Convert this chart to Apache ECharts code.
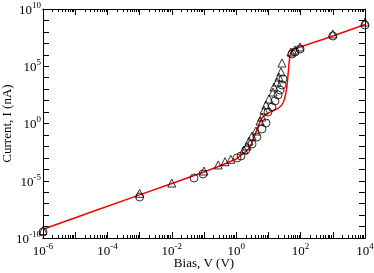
<!DOCTYPE html>
<html>
<head>
<meta charset="utf-8">
<script src="https://cdn.jsdelivr.net/npm/echarts@6/dist/echarts.min.js"></script>
<style>html,body{margin:0;padding:0;background:#fff}#c{width:374px;height:273px}</style>
</head>
<body>
<div id="c"></div>
<script>
// Fit line (Bias V, Current nA)
const lineV = [1e-6, 1e-3, 0.1, 1, 1.3, 1.9, 2.7, 3.8, 6.3, 11.2, 18.6, 26, 32, 38, 42, 47, 58, 95, 1000, 1e4];
const lineI = [5.8e-10, 5.8e-7, 5.8e-5, 8e-4, 1.45e-3, 3.2e-3, 8.9e-3, 0.1, 3.0, 10, 18.6, 42, 158, 2290, 4.7e4, 9.5e5, 2.6e6, 4.8e6, 4.4e7, 4.5e8];
// Triangle markers
const triV = [1e-6, 1e-3, 1e-2, 0.1, 0.275, 0.45, 0.68, 1.75, 2.16, 2.5, 3.1, 4.1, 5.5, 6.3, 7.3, 8.4, 10.4, 13.9, 14.9, 18.5, 21.3, 24.6, 26.4, 50, 67, 96, 1000, 1e4];
const triI = [4.5e-10, 7.9e-7, 6.3e-6, 7.1e-5, 2.4e-4, 4.6e-4, 7.4e-4, 4.9e-3, 1.07e-2, 2.95e-2, 8.1e-2, 0.22, 1.65, 3.7, 15, 42, 138, 560, 1550, 4200, 1.15e4, 3.2e4, 1.9e5, 1.74e6, 2.6e6, 4.8e6, 6.6e7, 7.2e8];
// Circle markers
const circV = [1e-6, 1e-3, 0.049, 0.093, 1.06, 1.41, 2.0, 3.1, 4.4, 6.3, 8.4, 9.7, 12.9, 16, 19.9, 22.9, 26.4, 28.4, 54, 67, 96, 1000, 1e4];
const circI = [3.3e-10, 3.8e-7, 1.74e-5, 3.9e-5, 9.8e-4, 1.45e-3, 4.9e-3, 1.6e-2, 6.6e-2, 0.33, 1.1, 10, 27.5, 93, 310, 850, 2300, 7800, 1.17e6, 1.74e6, 3.2e6, 4.4e7, 4e8];
// Ticks
const xMajor = [1e-6, 1e-5, 1e-4, 1e-3, 1e-2, 1e-1, 1, 10, 100, 1000, 1e4];
const xLabels = [1e-6, 1e-4, 1e-2, 1, 100, 1e4];
const yMajor = [1e-10,1e-9,1e-8,1e-7,1e-6,1e-5,1e-4,1e-3,1e-2,1e-1,1,10,100,1e3,1e4,1e5,1e6,1e7,1e8,1e9,1e10];
const yLabels = [1e-10, 1e-5, 1, 1e5, 1e10];
const xMinor = [];
xMajor.slice(0, -1).forEach(d => { for (let k = 2; k <= 9; k++) xMinor.push(d * k); });

const FONT = 'Liberation Serif';
const rich = {
  b: {fontSize: 13, fontFamily: FONT, color: '#000', lineHeight: 16, verticalAlign: 'bottom'},
  s: {fontSize: 9, fontFamily: FONT, color: '#000', lineHeight: 10, padding: [0, 0, 7, 0], verticalAlign: 'bottom'}
};
const fmt = v => '{b|10}{s|' + Math.round(Math.log10(v)) + '}';

function xAx(pos, ticks, len, labels) {
  return {
    type: 'log', min: 1e-6, max: 1e4, position: pos,
    axisLine: {show: true, onZero: false, lineStyle: {color: '#000', width: 1}},
    axisTick: {show: true, inside: true, length: len, customValues: ticks, lineStyle: {color: '#000', width: 1}},
    minorTick: {show: false}, splitLine: {show: false},
    axisLabel: labels ? {show: true, customValues: labels, formatter: fmt, rich: rich, margin: 4} : {show: false}
  };
}
function yAx(pos, labels) {
  return {
    type: 'log', min: 1e-10, max: 1e10, position: pos,
    axisLine: {show: true, onZero: false, lineStyle: {color: '#000', width: 1}},
    axisTick: {show: true, inside: true, length: 6, customValues: yMajor, lineStyle: {color: '#000', width: 1}},
    minorTick: {show: false}, splitLine: {show: false},
    axisLabel: labels ? {show: true, customValues: labels, formatter: fmt, rich: rich, margin: 2} : {show: false}
  };
}
const xa0 = xAx('bottom', xMajor, 6, xLabels);
xa0.name = 'Bias, V (V)'; xa0.nameLocation = 'middle'; xa0.nameGap = 19; xa0.nameMoveOverlap = false;
xa0.nameTextStyle = {fontFamily: FONT, fontSize: 13, color: '#000'};
const ya0 = yAx('left', yLabels);
ya0.name = 'Current, I (nA)'; ya0.nameLocation = 'middle'; ya0.nameGap = 29; ya0.nameRotate = 90; ya0.nameMoveOverlap = false;
ya0.nameTextStyle = {fontFamily: FONT, fontSize: 13, color: '#000'};

const chart = echarts.init(document.getElementById('c'), null, {renderer: 'canvas'});
chart.setOption({
  animation: false,
  backgroundColor: '#fff',
  grid: {left: 43, right: 9, top: 9, bottom: 35, containLabel: false, outerBoundsMode: 'none'},
  xAxis: [xa0, xAx('bottom', xMinor, 3, null), xAx('top', xMajor, 6, null), xAx('top', xMinor, 3, null)],
  yAxis: [ya0, yAx('right', null)],
  series: [
    {type: 'line', xAxisIndex: 0, yAxisIndex: 0, data: lineV.map((v, i) => [v, lineI[i]]),
     showSymbol: false, smooth: 0.2, lineStyle: {color: '#ff0000', width: 1.5}, z: 2},
    {type: 'scatter', xAxisIndex: 0, yAxisIndex: 0, data: triV.map((v, i) => [v, triI[i]]),
     symbol: 'triangle', symbolSize: 8, itemStyle: {color: 'rgba(0,0,0,0)', borderColor: '#000', borderWidth: 1}, z: 3},
    {type: 'scatter', xAxisIndex: 0, yAxisIndex: 0, data: circV.map((v, i) => [v, circI[i]]),
     symbol: 'circle', symbolSize: 8, itemStyle: {color: 'rgba(0,0,0,0)', borderColor: '#000', borderWidth: 1}, z: 3}
  ]
});
</script>
</body>
</html>
